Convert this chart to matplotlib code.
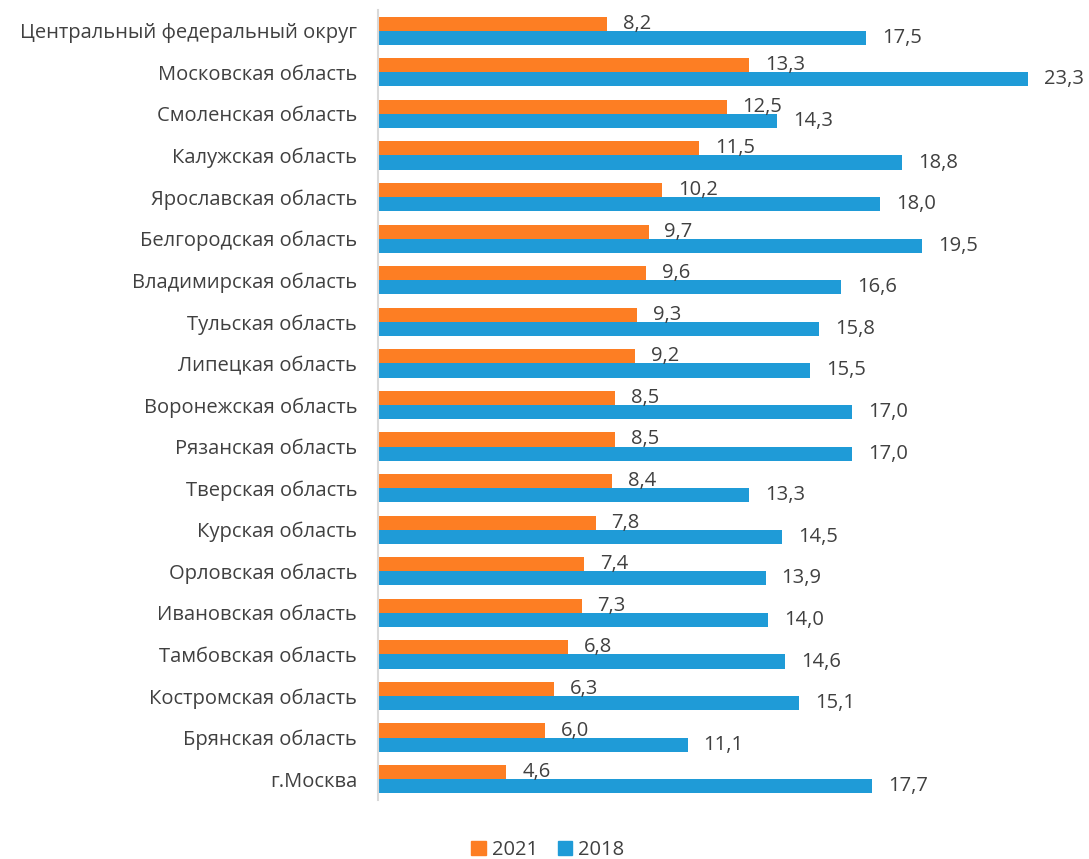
import numpy as np
import matplotlib.pyplot as plt
from matplotlib.patches import Patch

# регионы ЦФО и значения по годам
regions = ['Центральный федеральный округ', 'Московская область', 'Смоленская область',
           'Калужская область', 'Ярославская область', 'Белгородская область',
           'Владимирская область', 'Тульская область', 'Липецкая область',
           'Воронежская область', 'Рязанская область', 'Тверская область',
           'Курская область', 'Орловская область', 'Ивановская область',
           'Тамбовская область', 'Костромская область', 'Брянская область', 'г.Москва']
vals_2021 = [8.2, 13.3, 12.5, 11.5, 10.2, 9.7, 9.6, 9.3, 9.2, 8.5, 8.5, 8.4,
             7.8, 7.4, 7.3, 6.8, 6.3, 6.0, 4.6]
vals_2018 = [17.5, 23.3, 14.3, 18.8, 18.0, 19.5, 16.6, 15.8, 15.5, 17.0, 17.0, 13.3,
             14.5, 13.9, 14.0, 14.6, 15.1, 11.1, 17.7]

c_2021 = '#FD7E23'
c_2018 = '#1F9BD7'
txt = '#404040'
fs = 14.5

plt.rcParams['font.family'] = ['Open Sans', 'DejaVu Sans']

fig = plt.figure(figsize=(10.89, 8.59), dpi=100)
ax = fig.add_axes([0.347, 0.0687, 0.6405, 0.9197])

y = np.arange(len(regions))
h = 0.34
b1 = ax.barh(y - h / 2, vals_2021, height=h, color=c_2021, label='2021')
b2 = ax.barh(y + h / 2, vals_2018, height=h, color=c_2018, label='2018')

for bars, vals in [(b1, vals_2021), (b2, vals_2018)]:
    ax.bar_label(bars, labels=[f'{v:.1f}'.replace('.', ',') for v in vals],
                 padding=11.5, fontsize=fs, color=txt)

ax.set_xlim(0, 25)
ax.set_ylim(len(regions) - 0.5, -0.5)
ax.set_yticks(y)
ax.set_yticklabels(regions, fontsize=fs, color=txt)
ax.set_xticks([])
ax.tick_params(axis='y', length=0, pad=15)
for s in ['top', 'right', 'bottom']:
    ax.spines[s].set_visible(False)
ax.spines['left'].set_color('#D9D9D9')
ax.spines['left'].set_linewidth(1.5)

handles = [Patch(color=c_2021, label='2021'), Patch(color=c_2018, label='2018')]
fig.legend(handles=handles, loc='center', bbox_to_anchor=(0.503, 0.01), ncol=2,
           frameon=False, fontsize=fs, labelcolor=txt, handlelength=0.7,
           handleheight=0.7, handletextpad=0.3, columnspacing=1.0)

fig.savefig('out.png', dpi=100)
